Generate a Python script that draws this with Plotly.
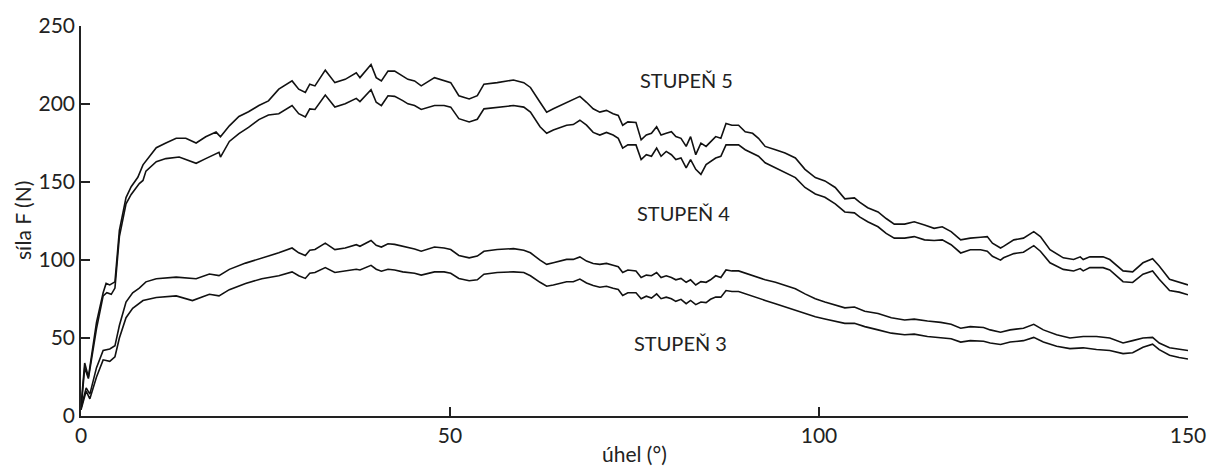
import plotly.graph_objects as go

# ---- data (angle in degrees, force in N) ----
angle_a = [0, 0.5, 1.0, 2.1, 3.0, 3.4, 3.9, 4.6, 5.2, 6.1, 6.8, 7.7, 8.4, 9.1, 10.2, 11.5, 12.9, 14.2, 15.6, 16.9, 18.3, 18.9, 20.1, 21.4, 22.7, 24.1, 25.4,
           26.8, 28.6, 29.5, 30.4, 31.0, 31.7, 33.1, 34.4, 35.8, 37.3, 37.8, 39.3, 40.0, 40.7, 41.6, 42.5, 43.6, 44.3, 45.2, 46.1, 47.9, 49.2, 50.1, 51.2, 52.6, 53.7, 54.6, 56.4, 58.6, 60.0, 60.9, 62.2, 63.1, 64.0,
           65.8, 66.7, 67.6, 68.5, 69.4, 70.3, 71.2, 72.1, 72.8, 73.4, 74.1, 75.2, 75.9, 76.6, 77.3, 78.0, 78.6, 79.3, 80.0, 80.6, 81.3, 82.0, 82.6, 83.3, 84.0, 84.7, 85.3, 86.0, 86.7, 87.4, 88.2, 89.1, 90.0, 91.0, 91.8, 92.7, 94.1, 95.4, 96.8, 98.1, 99.5, 100.8, 102.2, 103.5,
           104.8, 105.5, 106.6, 108.0, 109.1, 110.2, 111.6, 112.9, 114.3, 115.6, 116.7, 117.9, 119.2, 120.5, 121.9, 122.8, 123.5, 124.6, 125.0, 126.4, 127.7, 129.1, 130.0, 131.3, 133.1, 134.5, 135.4, 135.8, 136.7, 138.5, 139.4, 141.2, 142.5, 143.9, 145.2, 146.1, 147.5, 148.8, 150.0]
force_1 = [6, 34, 25, 60, 79, 85, 84, 86, 119, 140, 147, 153, 161, 165, 172, 175, 178, 178, 175, 179, 182, 179, 186, 192, 195, 199, 202,
           209.5, 214.8, 209.5, 207.4, 212.7, 211.6, 221.7, 213.7, 215.8, 220.0, 216.9, 225.3, 216.9, 214.8, 221.1, 221.1, 217.9, 215.8, 214.8, 211.6, 216.9, 214.8, 213.7, 205.3, 203.2, 205.3, 212.7, 213.7, 215.4, 213.7, 210.6, 201.1, 194.8, 196.9,
           201.1, 203.2, 204.9, 201.1, 196.9, 194.8, 195.9, 193.8, 192.7, 186.4, 188.5, 188.1, 177.0, 180.1, 181.2, 185.4, 180.1, 181.2, 182.2, 179.1, 178.0, 172.8, 179.1, 167.5, 174.9, 172.8, 175.9, 179.1, 178.0, 187.5, 186.4, 186.4, 182.2, 181.2, 178.0, 172.8, 170.7, 168.6, 165.4, 158.1, 152.8, 150.7, 146.5, 139.2,
           139.8, 137.1, 133.5, 130.8, 126.6, 123.0, 123.0, 124.5, 122.4, 120.3, 121.3, 118.2, 112.9, 114.0, 114.6, 115.0, 110.8, 107.7, 108.7, 112.9, 114.0, 118.2, 115.0, 106.6, 101.4, 100.3, 102.0, 100.3, 102.0, 102.0, 100.3, 93.0, 92.4, 98.2, 100.8, 96.1, 87.7, 85.6, 84.0]

angle_b = [0, 0.5, 1.0, 2.1, 3.0, 3.5, 4.1, 4.6, 5.2, 6.1, 6.8, 7.9, 8.4, 8.8, 10.2, 11.5, 13.3, 15.6, 16.9, 18.7, 18.9, 20.1, 21.4, 22.7, 24.1, 25.4,
           26.8, 28.6, 29.5, 30.4, 31.0, 31.7, 33.1, 34.4, 35.8, 37.3, 37.8, 39.3, 40.0, 40.7, 41.6, 42.5, 43.6, 44.3, 45.2, 46.1, 47.9, 49.2, 50.1, 51.2, 52.6, 53.7, 54.6, 56.4, 58.6, 60.0, 60.9, 62.2, 63.1, 64.0,
           65.8, 66.7, 67.6, 68.5, 69.4, 70.3, 71.2, 72.1, 72.8, 73.4, 74.1, 75.2, 75.9, 76.6, 77.3, 78.0, 78.6, 79.3, 80.0, 80.6, 81.3, 82.0, 82.6, 83.3, 84.0, 84.7, 85.3, 86.0, 86.7, 87.4, 88.2, 89.1, 90.0, 91.0, 91.8, 92.7, 94.1, 95.4, 96.8, 98.1, 99.5, 100.8, 102.2, 103.5,
           104.8, 105.5, 106.6, 108.0, 109.1, 110.2, 111.6, 112.9, 114.3, 115.6, 116.7, 117.9, 119.2, 120.5, 121.9, 122.8, 123.5, 124.6, 125.0, 126.4, 127.7, 129.1, 130.0, 131.3, 133.1, 134.5, 135.4, 135.8, 136.7, 138.5, 139.4, 141.2, 142.5, 143.9, 145.2, 146.1, 147.5, 148.8, 150.0]
force_2 = [4, 31, 24, 56, 77, 79, 78, 82, 115, 136, 142, 149, 151, 157, 163, 165, 166, 162, 165, 169, 166, 176, 181, 185, 190, 193,
           193.8, 199.0, 193.8, 191.7, 196.9, 196.5, 205.7, 198.0, 200.1, 203.6, 201.5, 209.1, 201.1, 199.0, 205.3, 204.9, 202.2, 200.1, 199.0, 196.5, 199.0, 199.0, 198.0, 190.6, 188.5, 190.2, 196.9, 198.0, 199.0, 198.0, 194.8, 185.4, 181.2, 183.3,
           186.4, 186.8, 189.6, 186.4, 181.8, 180.1, 181.8, 180.1, 178.0, 171.7, 173.8, 173.8, 164.4, 167.5, 166.5, 171.7, 166.5, 169.6, 167.5, 164.4, 165.4, 159.1, 164.4, 158.1, 154.9, 161.2, 163.3, 165.4, 166.5, 173.8, 173.8, 173.8, 170.7, 168.6, 166.5, 162.3, 159.1, 156.0, 152.8, 146.5, 142.3, 140.2, 136.0, 130.8,
           130.2, 127.6, 124.5, 121.3, 117.1, 114.0, 114.0, 115.0, 112.9, 112.5, 112.9, 109.8, 104.5, 106.6, 106.6, 105.6, 102.4, 99.9, 101.4, 104.1, 105.0, 109.2, 105.6, 98.2, 94.0, 93.0, 94.5, 93.0, 95.1, 95.1, 93.6, 86.1, 85.6, 90.9, 93.0, 87.7, 80.4, 79.4, 77.7]

angle_c = [0, 0.7, 1.2, 2.1, 3.0, 3.9, 4.6, 5.2, 6.1, 7.0, 7.9, 8.8, 10.2, 12.9, 15.6, 17.4, 18.7, 20.1, 22.3, 24.5,
           26.8, 28.6, 29.5, 30.4, 31.0, 31.7, 33.1, 34.4, 35.8, 37.3, 37.8, 39.3, 40.0, 40.7, 41.6, 42.5, 43.6, 44.3, 45.2, 46.1, 47.9, 49.2, 50.1, 51.2, 52.6, 53.7, 54.6, 56.4, 58.6, 60.0, 60.9, 62.2, 63.1, 64.0,
           65.8, 66.7, 67.6, 68.5, 69.4, 70.3, 71.2, 72.1, 72.8, 73.4, 74.1, 75.2, 75.9, 76.6, 77.3, 78.0, 78.6, 79.3, 80.0, 80.6, 81.3, 82.0, 82.6, 83.3, 84.0, 84.7, 85.3, 86.0, 86.7, 87.4, 88.2, 89.1, 90.0, 91.0, 91.8, 92.7, 94.1, 95.4, 96.8, 98.1, 99.5, 100.8, 102.2, 103.5,
           104.8, 106.2, 108.0, 109.8, 111.6, 112.9, 114.7, 116.5, 117.9, 119.2, 120.5, 122.3, 123.2, 124.6, 125.9, 127.7, 129.1, 130.4, 132.2, 134.0, 135.8, 137.6, 139.4, 141.2, 142.5, 143.9, 145.2, 146.1, 147.5, 148.8, 150.0]
force_3 = [5, 18, 14, 31, 42, 43, 45, 58, 73, 79, 82, 86, 88, 89, 88, 91, 90, 94, 98, 101,
           104.6, 107.7, 104.6, 102.9, 106.2, 106.7, 110.8, 106.7, 107.7, 109.8, 108.8, 112.5, 109.4, 108.3, 110.4, 110.0, 108.8, 107.7, 107.1, 105.6, 108.3, 107.7, 106.7, 102.9, 101.4, 102.5, 105.6, 106.7, 107.3, 106.2, 104.6, 99.9, 97.2, 98.3,
           100.4, 100.4, 102.0, 99.3, 97.8, 97.2, 97.8, 96.6, 95.7, 92.0, 93.6, 93.0, 88.8, 90.3, 89.9, 92.0, 88.8, 89.9, 88.8, 87.3, 88.2, 85.7, 87.3, 84.0, 86.1, 85.7, 87.3, 89.9, 88.8, 93.6, 93.0, 93.0, 91.5, 89.9, 88.8, 87.3, 85.7, 83.6, 81.5, 78.3, 75.2, 73.1, 71.0, 69.3,
           69.9, 67.2, 65.7, 63.0, 61.5, 62.1, 60.9, 60.0, 58.8, 56.3, 57.3, 56.7, 55.2, 53.7, 55.2, 56.3, 58.8, 55.2, 52.1, 50.0, 51.0, 51.0, 50.0, 46.8, 48.3, 50.0, 50.4, 46.8, 43.7, 42.6, 42.0]

angle_d = [0, 0.7, 1.2, 2.1, 3.0, 3.9, 4.6, 5.2, 6.1, 7.0, 8.4, 10.2, 12.9, 15.1, 17.4, 18.7, 20.1, 22.3, 24.5,
           26.8, 28.6, 29.5, 30.4, 31.0, 31.7, 33.1, 34.4, 35.8, 37.3, 37.8, 39.3, 40.0, 40.7, 41.6, 42.5, 43.6, 44.3, 45.2, 46.1, 47.9, 49.2, 50.1, 51.2, 52.6, 53.7, 54.6, 56.4, 58.6, 60.0, 60.9, 62.2, 63.1, 64.0,
           65.8, 66.7, 67.6, 68.5, 69.4, 70.3, 71.2, 72.1, 72.8, 73.4, 74.1, 75.2, 75.9, 76.6, 77.3, 78.0, 78.6, 79.3, 80.0, 80.6, 81.3, 82.0, 82.6, 83.3, 84.0, 84.7, 85.3, 86.0, 86.7, 87.4, 88.2, 89.1, 90.0, 91.0, 91.8, 92.7, 94.1, 95.4, 96.8, 98.1, 99.5, 100.8, 102.2, 103.5,
           104.8, 106.2, 108.0, 109.8, 111.6, 112.9, 114.7, 116.5, 117.9, 119.2, 120.5, 122.3, 123.2, 124.6, 125.9, 127.7, 129.1, 130.4, 132.2, 134.0, 135.8, 137.6, 139.4, 141.2, 142.5, 143.9, 145.2, 146.1, 147.5, 148.8, 150.0]
force_4 = [4, 16, 11, 25, 36, 35, 38, 50, 63, 69, 74, 76, 77, 74, 78, 77, 81, 85, 88,
           89.9, 92.4, 89.9, 88.2, 91.5, 92.0, 95.1, 92.0, 92.8, 94.1, 93.6, 96.6, 94.1, 92.8, 94.1, 93.6, 92.4, 92.0, 91.5, 90.3, 92.4, 92.4, 91.5, 88.2, 86.7, 87.3, 90.9, 92.0, 92.4, 92.0, 89.9, 85.7, 83.2, 84.0,
           86.1, 86.1, 87.8, 85.3, 83.6, 82.5, 83.2, 81.9, 81.1, 77.3, 79.0, 79.0, 75.2, 76.8, 75.6, 78.3, 75.2, 76.2, 75.2, 73.5, 74.8, 72.0, 74.1, 71.4, 73.1, 72.7, 74.8, 76.2, 76.2, 80.4, 79.8, 79.8, 78.3, 76.8, 75.6, 74.1, 72.0, 69.9, 67.8, 65.7, 63.6, 62.2, 60.5, 59.4,
           59.4, 57.3, 55.2, 53.1, 52.1, 52.5, 51.0, 50.4, 49.5, 47.4, 48.3, 47.9, 46.8, 45.8, 47.4, 48.3, 50.4, 47.4, 44.7, 43.2, 43.7, 42.6, 42.0, 40.0, 40.5, 44.0, 46.0, 42.5, 39.0, 37.5, 36.5]

label_text = ["STUPEŇ 5", "STUPEŇ 4", "STUPEŇ 3"]
label_x = [82.0, 81.6, 81.2]
label_y = [215.4, 130.4, 46.6]

x_ticks = [0, 50, 100, 150]
y_ticks = [0, 50, 100, 150, 200, 250]

FONT = "Lato, 'Open Sans', sans-serif"

fig = go.Figure()
for xs, ys in [(angle_a, force_1), (angle_b, force_2), (angle_c, force_3), (angle_d, force_4)]:
    fig.add_trace(go.Scatter(x=xs, y=ys, mode="lines",
                             line=dict(color="#111111", width=1.6),
                             showlegend=False, hoverinfo="skip"))

for t, x, y in zip(label_text, label_x, label_y):
    fig.add_annotation(x=x, y=y, text=t, showarrow=False,
                       font=dict(family=FONT, size=20, color="#222222"),
                       xanchor="center", yanchor="middle")

fig.add_annotation(xref="paper", yref="paper", x=0.5, y=0, yshift=-37,
                   text="úhel (°)", showarrow=False, xanchor="center", yanchor="middle",
                   font=dict(family=FONT, size=21, color="#222222"))
fig.add_annotation(xref="paper", yref="paper", x=0, y=0.5, xshift=-59,
                   text="síla F (N)", showarrow=False, textangle=-90,
                   xanchor="center", yanchor="middle",
                   font=dict(family=FONT, size=21, color="#222222"))

fig.update_layout(
    width=1218, height=470,
    margin=dict(l=81, r=22, t=19, b=54),
    paper_bgcolor="white", plot_bgcolor="white",
    font=dict(family=FONT, size=21, color="#222222"),
)
fig.update_xaxes(range=[0, 150], tickvals=x_ticks, showgrid=False, zeroline=False,
                 showline=True, linecolor="#222222", linewidth=1.5,
                 ticks="inside", ticklen=9, tickwidth=1.5, tickcolor="#222222",
                 tickfont=dict(family=FONT, size=21, color="#222222"))
fig.update_yaxes(range=[0, 250], tickvals=y_ticks, showgrid=False, zeroline=False,
                 showline=True, linecolor="#222222", linewidth=1.5,
                 ticks="inside", ticklen=9, tickwidth=1.5, tickcolor="#222222",
                 ticklabelstandoff=0,
                 tickfont=dict(family=FONT, size=21, color="#222222"))

fig.write_html("out.html")
